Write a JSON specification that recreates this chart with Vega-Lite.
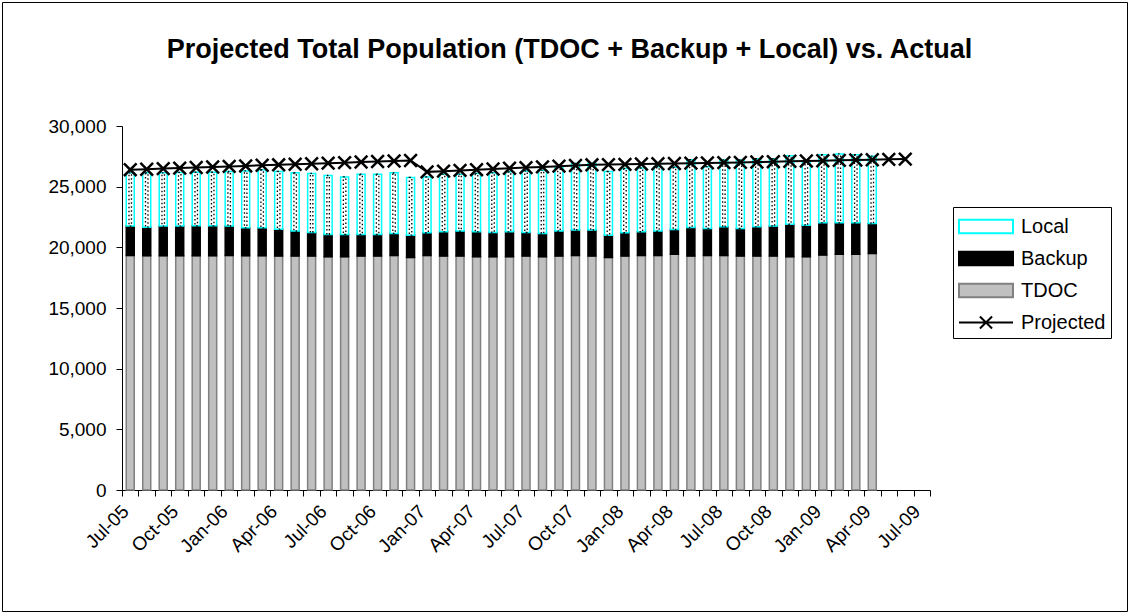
{
  "$schema": "https://vega.github.io/schema/vega-lite/v6.json",
  "width": 1125,
  "height": 609,
  "autosize": {"type": "none"},
  "padding": {"left": 2, "top": 2, "right": 3, "bottom": 3},
  "background": "white",
  "config": {
    "view": {"stroke": "black", "strokeWidth": 1},
    "font": "Liberation Sans"
  },
  "title": {
    "text": "Projected Total Population (TDOC + Backup + Local) vs. Actual",
    "font": "Liberation Sans",
    "fontSize": 27,
    "fontWeight": "bold",
    "color": "black",
    "anchor": "middle",
    "offset": -62,
    "dx": 5
  },
  "data": {
    "values": [
      {"month": "Jul-05", "TDOC": 19330, "Backup": 2420, "Local": 4390, "Projected": 26400},
      {"month": "Aug-05", "TDOC": 19310, "Backup": 2350, "Local": 4480, "Projected": 26440},
      {"month": "Sep-05", "TDOC": 19300, "Backup": 2450, "Local": 4390, "Projected": 26490},
      {"month": "Oct-05", "TDOC": 19300, "Backup": 2450, "Local": 4420, "Projected": 26530},
      {"month": "Nov-05", "TDOC": 19310, "Backup": 2460, "Local": 4420, "Projected": 26580},
      {"month": "Dec-05", "TDOC": 19300, "Backup": 2470, "Local": 4420, "Projected": 26620},
      {"month": "Jan-06", "TDOC": 19320, "Backup": 2430, "Local": 4500, "Projected": 26670},
      {"month": "Feb-06", "TDOC": 19300, "Backup": 2310, "Local": 4690, "Projected": 26710},
      {"month": "Mar-06", "TDOC": 19300, "Backup": 2310, "Local": 4790, "Projected": 26760},
      {"month": "Apr-06", "TDOC": 19280, "Backup": 2220, "Local": 4760, "Projected": 26800},
      {"month": "May-06", "TDOC": 19280, "Backup": 2060, "Local": 4800, "Projected": 26850},
      {"month": "Jun-06", "TDOC": 19280, "Backup": 1950, "Local": 4860, "Projected": 26890},
      {"month": "Jul-06", "TDOC": 19220, "Backup": 1840, "Local": 4860, "Projected": 26940},
      {"month": "Aug-06", "TDOC": 19220, "Backup": 1840, "Local": 4740, "Projected": 26980},
      {"month": "Sep-06", "TDOC": 19280, "Backup": 1780, "Local": 4970, "Projected": 27030},
      {"month": "Oct-06", "TDOC": 19280, "Backup": 1780, "Local": 4970, "Projected": 27070},
      {"month": "Nov-06", "TDOC": 19330, "Backup": 1820, "Local": 4990, "Projected": 27120},
      {"month": "Dec-06", "TDOC": 19170, "Backup": 1830, "Local": 4760, "Projected": 27160},
      {"month": "Jan-07", "TDOC": 19330, "Backup": 1870, "Local": 4600, "Projected": 26220},
      {"month": "Feb-07", "TDOC": 19280, "Backup": 2000, "Local": 4750, "Projected": 26280},
      {"month": "Mar-07", "TDOC": 19280, "Backup": 2060, "Local": 4690, "Projected": 26340},
      {"month": "Apr-07", "TDOC": 19220, "Backup": 2060, "Local": 4810, "Projected": 26400},
      {"month": "May-07", "TDOC": 19220, "Backup": 2010, "Local": 4910, "Projected": 26460},
      {"month": "Jun-07", "TDOC": 19220, "Backup": 2060, "Local": 4940, "Projected": 26520},
      {"month": "Jul-07", "TDOC": 19280, "Backup": 1950, "Local": 5070, "Projected": 26570},
      {"month": "Aug-07", "TDOC": 19220, "Backup": 1930, "Local": 5210, "Projected": 26630},
      {"month": "Sep-07", "TDOC": 19280, "Backup": 2060, "Local": 5290, "Projected": 26690},
      {"month": "Oct-07", "TDOC": 19330, "Backup": 2090, "Local": 5490, "Projected": 26740},
      {"month": "Nov-07", "TDOC": 19280, "Backup": 2140, "Local": 5490, "Projected": 26800},
      {"month": "Dec-07", "TDOC": 19170, "Backup": 1830, "Local": 5250, "Projected": 26820},
      {"month": "Jan-08", "TDOC": 19280, "Backup": 1920, "Local": 5300, "Projected": 26840},
      {"month": "Feb-08", "TDOC": 19330, "Backup": 1950, "Local": 5260, "Projected": 26870},
      {"month": "Mar-08", "TDOC": 19330, "Backup": 2010, "Local": 5310, "Projected": 26890},
      {"month": "Apr-08", "TDOC": 19440, "Backup": 2030, "Local": 5130, "Projected": 26910},
      {"month": "May-08", "TDOC": 19280, "Backup": 2360, "Local": 5580, "Projected": 26940},
      {"month": "Jun-08", "TDOC": 19330, "Backup": 2230, "Local": 5090, "Projected": 26960},
      {"month": "Jul-08", "TDOC": 19330, "Backup": 2360, "Local": 5510, "Projected": 26980},
      {"month": "Aug-08", "TDOC": 19280, "Backup": 2280, "Local": 5640, "Projected": 27000},
      {"month": "Sep-08", "TDOC": 19280, "Backup": 2410, "Local": 5610, "Projected": 27030},
      {"month": "Oct-08", "TDOC": 19280, "Backup": 2470, "Local": 5550, "Projected": 27060},
      {"month": "Nov-08", "TDOC": 19220, "Backup": 2690, "Local": 5640, "Projected": 27090},
      {"month": "Dec-08", "TDOC": 19220, "Backup": 2610, "Local": 5220, "Projected": 27110},
      {"month": "Jan-09", "TDOC": 19360, "Backup": 2660, "Local": 5610, "Projected": 27140},
      {"month": "Feb-09", "TDOC": 19440, "Backup": 2580, "Local": 5680, "Projected": 27170},
      {"month": "Mar-09", "TDOC": 19440, "Backup": 2580, "Local": 5610, "Projected": 27200},
      {"month": "Apr-09", "TDOC": 19500, "Backup": 2470, "Local": 5540, "Projected": 27220},
      {"month": "May-09", "TDOC": null, "Backup": null, "Local": null, "Projected": 27250},
      {"month": "Jun-09", "TDOC": null, "Backup": null, "Local": null, "Projected": 27270},
      {"month": "Jul-09", "TDOC": null, "Backup": null, "Local": null, "Projected": null}
    ]
  },
  "layer": [
    {
      "transform": [
        {"fold": ["TDOC", "Backup", "Local"], "as": ["series", "value"]},
        {"filter": "datum.value != null"},
        {"calculate": "datum.series === 'TDOC' ? 0 : (datum.series === 'Backup' ? 1 : 2)", "as": "ord"}
      ],
      "mark": {"type": "bar", "size": 8, "strokeWidth": 1.5, "opacity": 1},
      "encoding": {
        "x": {
          "field": "month",
          "type": "ordinal",
          "sort": null,
          "scale": {
            "domain": ["Jul-05","Aug-05","Sep-05","Oct-05","Nov-05","Dec-05","Jan-06","Feb-06","Mar-06","Apr-06","May-06","Jun-06","Jul-06","Aug-06","Sep-06","Oct-06","Nov-06","Dec-06","Jan-07","Feb-07","Mar-07","Apr-07","May-07","Jun-07","Jul-07","Aug-07","Sep-07","Oct-07","Nov-07","Dec-07","Jan-08","Feb-08","Mar-08","Apr-08","May-08","Jun-08","Jul-08","Aug-08","Sep-08","Oct-08","Nov-08","Dec-08","Jan-09","Feb-09","Mar-09","Apr-09","May-09","Jun-09","Jul-09"],
            "range": [120, 928],
            "paddingInner": 0,
            "paddingOuter": 0
          },
          "axis": {
            "title": null,
            "grid": false,
            "offset": -121,
            "tickBand": "extent",
            "tickSize": 6,
            "tickColor": "black",
            "domainColor": "black",
            "labelExpr": "isString(datum.value) && indexof(['Jul','Oct','Jan','Apr'], substring(datum.value, 0, 3)) >= 0 ? datum.value : ''",
            "labelAngle": -45,
            "labelAlign": "right",
            "labelBaseline": "middle",
            "labelPadding": 12,
            "labelOffset": -5,
            "labelFont": "Liberation Sans",
            "labelFontSize": 19,
            "labelColor": "black",
            "labelOverlap": false
          }
        },
        "y": {
          "field": "value",
          "type": "quantitative",
          "stack": "zero",
          "scale": {"domain": [0, 30000], "range": [488, 124], "nice": false, "zero": true},
          "axis": {
            "title": null,
            "grid": false,
            "offset": -120,
            "values": [0, 5000, 10000, 15000, 20000, 25000, 30000],
            "format": ",d",
            "tickSize": 6,
            "tickColor": "black",
            "domainColor": "black",
            "labelPadding": 10,
            "labelFont": "Liberation Sans",
            "labelFontSize": 19,
            "labelColor": "black"
          }
        },
        "order": {"field": "ord", "type": "quantitative"},
        "fill": {
          "field": "series",
          "type": "nominal",
          "scale": {"domain": ["Local", "Backup", "TDOC", "Projected"], "range": ["white", "black", "#c0c0c0", "white"]},
          "legend": {"title": null, "orient": "none", "legendX": 951, "legendY": 205, "strokeColor": "black", "fillColor": "white", "padding": 5, "labelFont": "Liberation Sans", "labelFontSize": 20, "labelColor": "black", "labelLimit": 300, "symbolType": "M-1,-0.5H3V0.5H-1Z", "symbolSize": 729, "symbolStrokeWidth": 2, "labelOffset": 34, "rowPadding": 6}
        },
        "stroke": {
          "field": "series",
          "type": "nominal",
          "scale": {"domain": ["Local", "Backup", "TDOC", "Projected"], "range": ["#00ffff", "black", "#808080", "black"]},
          "legend": {"title": null, "orient": "none", "legendX": 951, "legendY": 205, "strokeColor": "black", "fillColor": "white", "padding": 5, "labelFont": "Liberation Sans", "labelFontSize": 20, "labelColor": "black", "labelLimit": 300, "symbolType": "M-1,-0.5H3V0.5H-1Z", "symbolSize": 729, "symbolStrokeWidth": 2, "labelOffset": 34, "rowPadding": 6}
        }
      }
    },
    {
      "transform": [
        {"fold": ["TDOC", "Backup", "Local"], "as": ["series", "value"]},
        {"filter": "datum.value != null"},
        {"calculate": "datum.series === 'TDOC' ? 0 : (datum.series === 'Backup' ? 1 : 2)", "as": "ord"}
      ],
      "mark": {"type": "bar", "size": 2.5, "fill": "transparent", "strokeWidth": 1.3, "strokeDash": [1.5, 2.5], "opacity": 1},
      "encoding": {
        "x": {"field": "month", "type": "ordinal", "sort": null},
        "y": {"field": "value", "type": "quantitative", "stack": "zero"},
        "order": {"field": "ord", "type": "quantitative"},
        "stroke": {"condition": {"test": "datum.series === 'Local'", "value": "black"}, "value": "transparent"}
      }
    },
    {
      "mark": {"type": "line", "color": "black", "strokeWidth": 2},
      "encoding": {
        "x": {"field": "month", "type": "ordinal", "sort": null},
        "y": {"field": "Projected", "type": "quantitative"}
      }
    },
    {
      "mark": {"type": "point", "shape": "M-1,-1L1,1M-1,1L1,-1", "size": 160, "stroke": "black", "strokeWidth": 2.5, "filled": false, "opacity": 1},
      "encoding": {
        "x": {"field": "month", "type": "ordinal", "sort": null},
        "y": {"field": "Projected", "type": "quantitative"}
      }
    },
    {
      "transform": [
        {"fold": ["Projected"], "as": ["series", "value"]},
        {"filter": "datum.value < 0"}
      ],
      "mark": {"type": "point", "filled": true, "opacity": 1},
      "encoding": {
        "x": {"field": "month", "type": "ordinal", "sort": null},
        "y": {"field": "value", "type": "quantitative"},
        "fill": {"field": "series", "type": "nominal"},
        "stroke": {"field": "series", "type": "nominal"},
        "shape": {
          "field": "series",
          "type": "nominal",
          "scale": {"domain": ["Local", "Backup", "TDOC", "Projected"], "range": ["M-1,-0.5H3V0.5H-1Z", "M-1,-0.5H3V0.5H-1Z", "M-1,-0.5H3V0.5H-1Z", "M-1,0H3M0.55,-0.45L1.45,0.45M0.55,0.45L1.45,-0.45"]},
          "legend": {"title": null, "orient": "none", "legendX": 951, "legendY": 205, "strokeColor": "black", "fillColor": "white", "padding": 5, "labelFont": "Liberation Sans", "labelFontSize": 20, "labelColor": "black", "labelLimit": 300, "symbolSize": 729, "symbolStrokeWidth": 2, "labelOffset": 34, "rowPadding": 6}
        }
      }
    }
  ]
}
